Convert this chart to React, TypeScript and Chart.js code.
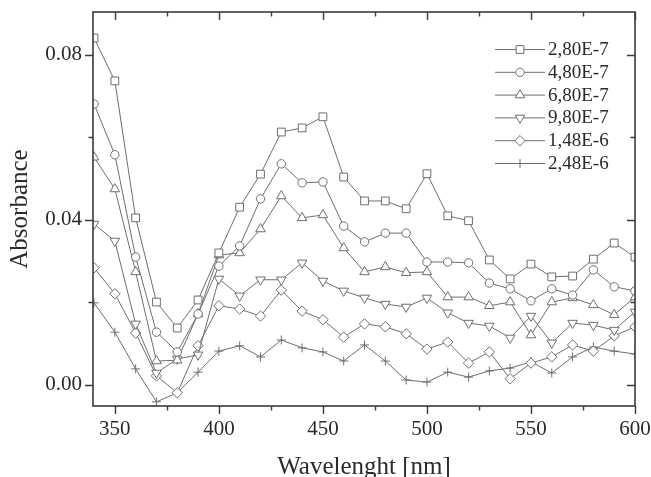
import React, { useEffect, useRef } from 'react';
import { Chart, registerables } from 'chart.js';
import { drawPoint } from 'chart.js/helpers';

Chart.register(...registerables);

const wavelengths = [340, 350, 360, 370, 380, 390, 400, 410, 420, 430, 440, 450, 460, 470, 480, 490, 500, 510, 520, 530, 540, 550, 560, 570, 580, 590, 600];

const s280E7 = [0.0841, 0.0737, 0.0405, 0.0201, 0.0138, 0.0206, 0.032, 0.0431, 0.0511, 0.0613, 0.0623, 0.065, 0.0504, 0.0446, 0.0446, 0.0427, 0.0512, 0.041, 0.0398, 0.0303, 0.0257, 0.0293, 0.0262, 0.0264, 0.0305, 0.0344, 0.031];
const s480E7 = [0.0681, 0.0558, 0.031, 0.0128, 0.008, 0.0172, 0.0288, 0.0337, 0.0451, 0.0536, 0.049, 0.0492, 0.0385, 0.0347, 0.0368, 0.0368, 0.0298, 0.0298, 0.0296, 0.0247, 0.0233, 0.0204, 0.0233, 0.0218, 0.0279, 0.0238, 0.0228];
const s680E7 = [0.0552, 0.0475, 0.0274, 0.0058, 0.006, 0.0172, 0.0315, 0.032, 0.0378, 0.0458, 0.0405, 0.0412, 0.0332, 0.0274, 0.0286, 0.0272, 0.0274, 0.0213, 0.0213, 0.0192, 0.0201, 0.0121, 0.0201, 0.0211, 0.0194, 0.017, 0.0213];
const s980E7 = [0.039, 0.0349, 0.0148, 0.0029, 0.0063, 0.0073, 0.0257, 0.0216, 0.0255, 0.0255, 0.0296, 0.0252, 0.0228, 0.0211, 0.0196, 0.0189, 0.0211, 0.0175, 0.015, 0.0143, 0.0114, 0.0167, 0.0102, 0.015, 0.0145, 0.0133, 0.0177];
const s148E6 = [0.0284, 0.0221, 0.0126, 0.0022, -0.0019, 0.0095, 0.0192, 0.0184, 0.0167, 0.023, 0.0179, 0.0158, 0.0116, 0.0148, 0.0141, 0.0124, 0.0087, 0.0104, 0.0053, 0.008, 0.0015, 0.0053, 0.0068, 0.0097, 0.0082, 0.0119, 0.0141];
const s248E6 = [0.0199, 0.0128, 0.0039, -0.0041, -0.0019, 0.0031, 0.0082, 0.0095, 0.0068, 0.0109, 0.009, 0.008, 0.0058, 0.0097, 0.0058, 0.0012, 0.0007, 0.0031, 0.0019, 0.0034, 0.0041, 0.0056, 0.0029, 0.0068, 0.0092, 0.0082, 0.0075];

const seriesLabels = ['2,80E-7', '4,80E-7', '6,80E-7', '9,80E-7', '1,48E-6', '2,48E-6'];
const seriesValues = [s280E7, s480E7, s680E7, s980E7, s148E6, s248E6];

const xMajorTicks = [350, 400, 450, 500, 550, 600];
const xMinorTicks = [375, 425, 475, 525, 575];
const yMajorTicks = [0, 0.04, 0.08];
const yMinorTicks = [0.02, 0.06];

const markerStyles = [
  { pointStyle: 'rect', radius: 5.5, rotation: 0 },
  { pointStyle: 'circle', radius: 4.2, rotation: 0 },
  { pointStyle: 'triangle', radius: 5.5, rotation: 0 },
  { pointStyle: 'triangle', radius: 5.5, rotation: 180 },
  { pointStyle: 'rectRot', radius: 5.2, rotation: 0 },
  { pointStyle: 'cross', radius: 4.5, rotation: 0 },
];

const LINE = '#6e6e6e';
const FRAME = '#3a3a3a';
const TEXT = '#2a2a2a';
const SERIF = '"Liberation Serif", "Times New Roman", serif';

const zeroPad = (s: any) => {
  s.paddingTop = 0;
  s.paddingBottom = 0;
  s.paddingLeft = 0;
  s.paddingRight = 0;
};

const framePlugin = {
  id: 'frameTicks',
  afterDraw(chart: any) {
    const { ctx, chartArea } = chart;
    const { left, right, top, bottom } = chartArea;
    const xs = chart.scales.x;
    const ys = chart.scales.y;
    ctx.save();
    ctx.strokeStyle = FRAME;
    ctx.lineWidth = 1.6;
    ctx.strokeRect(left, top, right - left, bottom - top);
    ctx.lineWidth = 1.4;
    const major = 8;
    const minor = 4.5;
    ctx.beginPath();
    const xt = (v: number, len: number) => {
      const px = Math.round(xs.getPixelForValue(v)) + 0.5;
      ctx.moveTo(px, bottom); ctx.lineTo(px, bottom + len);
      ctx.moveTo(px, top); ctx.lineTo(px, top + len);
    };
    const yt = (v: number, len: number) => {
      const py = Math.round(ys.getPixelForValue(v)) + 0.5;
      ctx.moveTo(left, py); ctx.lineTo(left - len, py);
      ctx.moveTo(right, py); ctx.lineTo(right - len, py);
    };
    xMajorTicks.forEach((v) => xt(v, major));
    xMinorTicks.forEach((v) => xt(v, minor));
    yMajorTicks.forEach((v) => yt(v, major));
    yMinorTicks.forEach((v) => yt(v, minor));
    ctx.stroke();

    // legend
    const rowH = 22.8;
    const x0 = right - 140;
    const x1 = right - 90;
    const xm = (x0 + x1) / 2;
    const xtxt = right - 87;
    let y = top + 37;
    ctx.font = '19px ' + SERIF;
    ctx.textBaseline = 'middle';
    ctx.textAlign = 'left';
    seriesLabels.forEach((lab, i) => {
      ctx.strokeStyle = LINE;
      ctx.lineWidth = 1;
      ctx.beginPath();
      ctx.moveTo(x0, y + 0.5);
      ctx.lineTo(x1, y + 0.5);
      ctx.stroke();
      ctx.fillStyle = '#ffffff';
      ctx.strokeStyle = LINE;
      ctx.lineWidth = 1;
      const m = markerStyles[i];
      drawPoint(ctx, { pointStyle: m.pointStyle, radius: m.radius, rotation: m.rotation, borderWidth: 1 }, xm, y + 0.5);
      ctx.fillStyle = TEXT;
      ctx.fillText(lab, xtxt, y + 1);
      y += rowH;
    });
    ctx.restore();
  },
};

export default function App() {
  const ref = useRef<HTMLCanvasElement | null>(null);
  useEffect(() => {
    if (!ref.current) return;
    const datasets = seriesValues.map((vals, i) => ({
      label: seriesLabels[i],
      data: wavelengths.map((w, k) => ({ x: w, y: vals[k] })),
      borderColor: LINE,
      borderWidth: 1,
      backgroundColor: '#ffffff',
      pointStyle: markerStyles[i].pointStyle,
      pointRadius: markerStyles[i].radius,
      pointRotation: markerStyles[i].rotation,
      pointBorderColor: LINE,
      pointBackgroundColor: '#ffffff',
      pointBorderWidth: 1,
      tension: 0,
      fill: false,
    }));
    const chart = new Chart(ref.current, {
      type: 'line',
      data: { datasets },
      options: {
        animation: false,
        responsive: false,
        layout: { padding: { top: 12, right: 16, left: 0, bottom: 0 } },
        plugins: { legend: { display: false }, tooltip: { enabled: false } },
        scales: {
          x: {
            type: 'linear',
            min: 339.5,
            max: 600,
            grid: { display: false, drawTicks: false },
            border: { display: false },
            afterBuildTicks: (s: any) => { s.ticks = xMajorTicks.map((v) => ({ value: v })); },
            afterFit: (s: any) => { s.height = 71; zeroPad(s); },
            ticks: { padding: 11, color: TEXT, font: { family: SERIF, size: 21 }, maxRotation: 0, autoSkip: false, callback: (v: any) => String(v) },
            title: { display: true, text: 'Wavelenght [nm]', color: TEXT, font: { family: SERIF, size: 25, lineHeight: 0.8 }, padding: 0 },
          },
          y: {
            type: 'linear',
            min: -0.0051,
            max: 0.0904,
            grid: { display: false, drawTicks: false },
            border: { display: false },
            afterBuildTicks: (s: any) => { s.ticks = yMajorTicks.map((v) => ({ value: v })); },
            afterFit: (s: any) => { s.width = 93; zeroPad(s); },
            ticks: { padding: 11, color: TEXT, font: { family: SERIF, size: 21 }, autoSkip: false, callback: (v: any) => Number(v).toFixed(2) },
            title: { display: true, text: 'Absorbance', color: TEXT, font: { family: SERIF, size: 25, lineHeight: 1.2 }, padding: { top: 5, bottom: 0 } },
          },
        },
      },
      plugins: [framePlugin],
    } as any);
    return () => chart.destroy();
  }, []);
  return (
    <div style={{ position: 'fixed', left: 0, top: 0, width: 651, height: 477, background: '#fff' }}>
      <canvas ref={ref} width={651} height={477} style={{ display: 'block' }} />
    </div>
  );
}
